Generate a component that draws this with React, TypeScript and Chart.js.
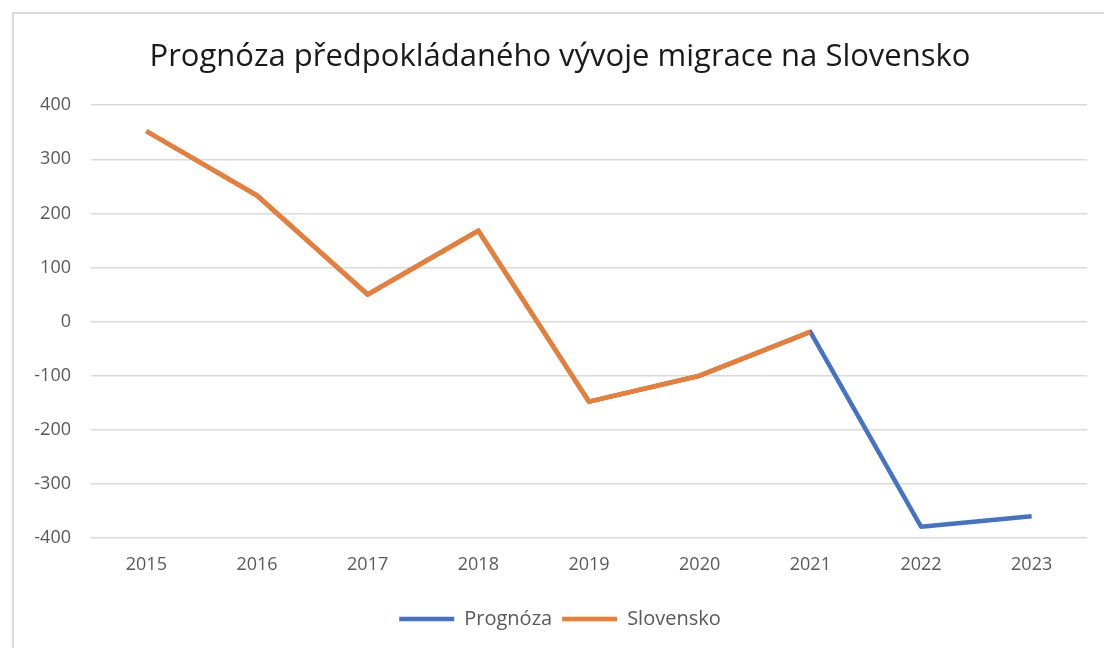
import React, { useEffect, useRef } from "react";
import { Chart, registerables } from "chart.js";

Chart.register(...registerables);

const years = ["2015", "2016", "2017", "2018", "2019", "2020", "2021", "2022", "2023"];
const prognozaValues = [352, 233, 50, 168, -148, -100, -19, -379, -360];
const slovenskoValues = [352, 233, 50, 168, -148, -100, -19, null, null];
const titleText = "Prognóza předpokládaného vývoje migrace na Slovensko";
const yMin = -400;
const yMax = 400;
const yStep = 100;

const FONT = "'Open Sans', sans-serif";

export default function App() {
  const ref = useRef<HTMLCanvasElement | null>(null);

  useEffect(() => {
    if (!ref.current) return;
    const chart = new Chart(ref.current, {
      type: "line",
      data: {
        labels: years,
        datasets: [
          {
            label: "Prognóza",
            data: prognozaValues,
            borderColor: "#4472C4",
            backgroundColor: "#4472C4",
            borderWidth: 4.5,
            pointRadius: 0,
            borderJoinStyle: "round",
            tension: 0,
            order: 1,
          },
          {
            label: "Slovensko",
            data: slovenskoValues,
            borderColor: "#ED7D31",
            backgroundColor: "#ED7D31",
            borderWidth: 4.5,
            pointRadius: 0,
            borderJoinStyle: "round",
            tension: 0,
            order: 0,
          },
        ],
      },
      options: {
        animation: false,
        responsive: false,
        maintainAspectRatio: false,
        layout: { padding: { top: 0, right: 17, bottom: 9, left: 19 } },
        plugins: {
          tooltip: { enabled: false },
          title: {
            display: true,
            text: titleText,
            color: "#1a1a1a",
            font: { family: FONT, size: 31, weight: "normal" },
            padding: { top: 25, bottom: 29 },
          },
          legend: {
            display: true,
            position: "bottom",
            labels: {
              usePointStyle: true,
              pointStyle: "line",
              pointStyleWidth: 55,
              color: "#595959",
              font: { family: FONT, size: 20 },
              padding: 10,
              sort: (a: any, b: any) => a.datasetIndex - b.datasetIndex,
            },
          },
        },
        scales: {
          x: {
            type: "category",
            offset: true,
            grid: { display: false, drawTicks: false },
            border: { display: false },
            ticks: {
              color: "#595959",
              font: { family: FONT, size: 18 },
              padding: 16,
              maxRotation: 0,
              autoSkip: false,
            },
            afterFit: (scale: any) => {
              scale.height = 61;
            },
          },
          y: {
            min: yMin,
            max: yMax,
            grid: { color: "#d9d9d9", lineWidth: 1.5, drawTicks: false },
            border: { display: false },
            ticks: {
              stepSize: yStep,
              color: "#595959",
              font: { family: FONT, size: 18 },
              padding: 20,
            },
            afterFit: (scale: any) => {
              scale.width = 58;
            },
          },
        },
      },
    });
    return () => chart.destroy();
  }, []);

  return (
    <div
      style={{
        position: "fixed",
        left: 12,
        top: 12,
        width: 1092,
        height: 636,
        borderLeft: "2px solid #d9d9d9",
        borderTop: "2px solid #d9d9d9",
        background: "#fff",
      }}
    >
      <canvas ref={ref} width={1090} height={634} style={{ display: "block", width: 1090, height: 634 }} />
    </div>
  );
}
